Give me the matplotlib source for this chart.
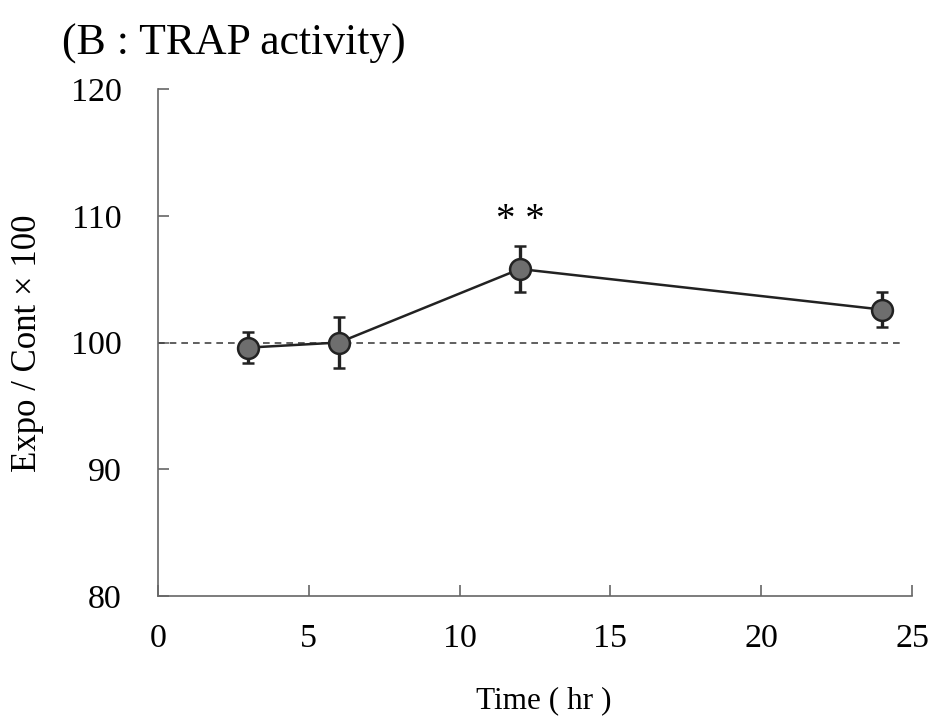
import numpy as np
from matplotlib import pyplot as plt

plt.rcParams['font.family'] = ['Liberation Serif', 'DejaVu Serif']

# exposure time (hr) vs TRAP activity relative to control
hours = [3, 6, 12, 24]
ratio = [99.6, 100.0, 105.8, 102.6]
err = [1.2, 2.05, 1.85, 1.4]

fig = plt.figure(figsize=(9.33, 7.22), dpi=100)
ax = fig.add_axes([0.1693, 0.1745, 0.8082, 0.7022])

ax.plot([0, 24.7], [100, 100], color='#444444', linestyle=(0, (4, 3)), linewidth=1.2)
ax.errorbar(hours, ratio, yerr=err, color='#222222', linewidth=1.8,
            marker='o', markersize=15, markerfacecolor='#6e6e6e',
            markeredgecolor='#222222', markeredgewidth=1.8,
            ecolor='#222222', elinewidth=2.4, capsize=4, capthick=2.4, zorder=3)
ax.text(12, 109.6, '* *', ha='center', va='center', fontsize=28)

ax.set_xlim(0, 25)
ax.set_ylim(80, 120)
ax.set_xticks([0, 5, 10, 15, 20, 25])
ax.set_yticks([80, 90, 100, 110, 120])
for s in ['top', 'right']:
    ax.spines[s].set_visible(False)
for s in ['left', 'bottom']:
    ax.spines[s].set_color('#666666')
    ax.spines[s].set_linewidth(1.2)
ax.tick_params(direction='in', length=8, width=1.2, color='#666666', labelsize=24.5)
ax.tick_params(axis='x', pad=20)
ax.tick_params(axis='y', pad=26)

# axis titles placed on the figure so they sit where wanted
fig.text(0.583, 0.03, 'Time ( hr )', fontsize=22.5, ha='center', va='center')
fig.text(0.029, 0.525, 'Expo / Cont \u00d7 100', fontsize=25, rotation=90,
         ha='center', va='center')
fig.text(0.066, 0.94, '(B : TRAP activity)', fontsize=31.5, ha='left', va='center')

fig.savefig('out.png', dpi=100)
